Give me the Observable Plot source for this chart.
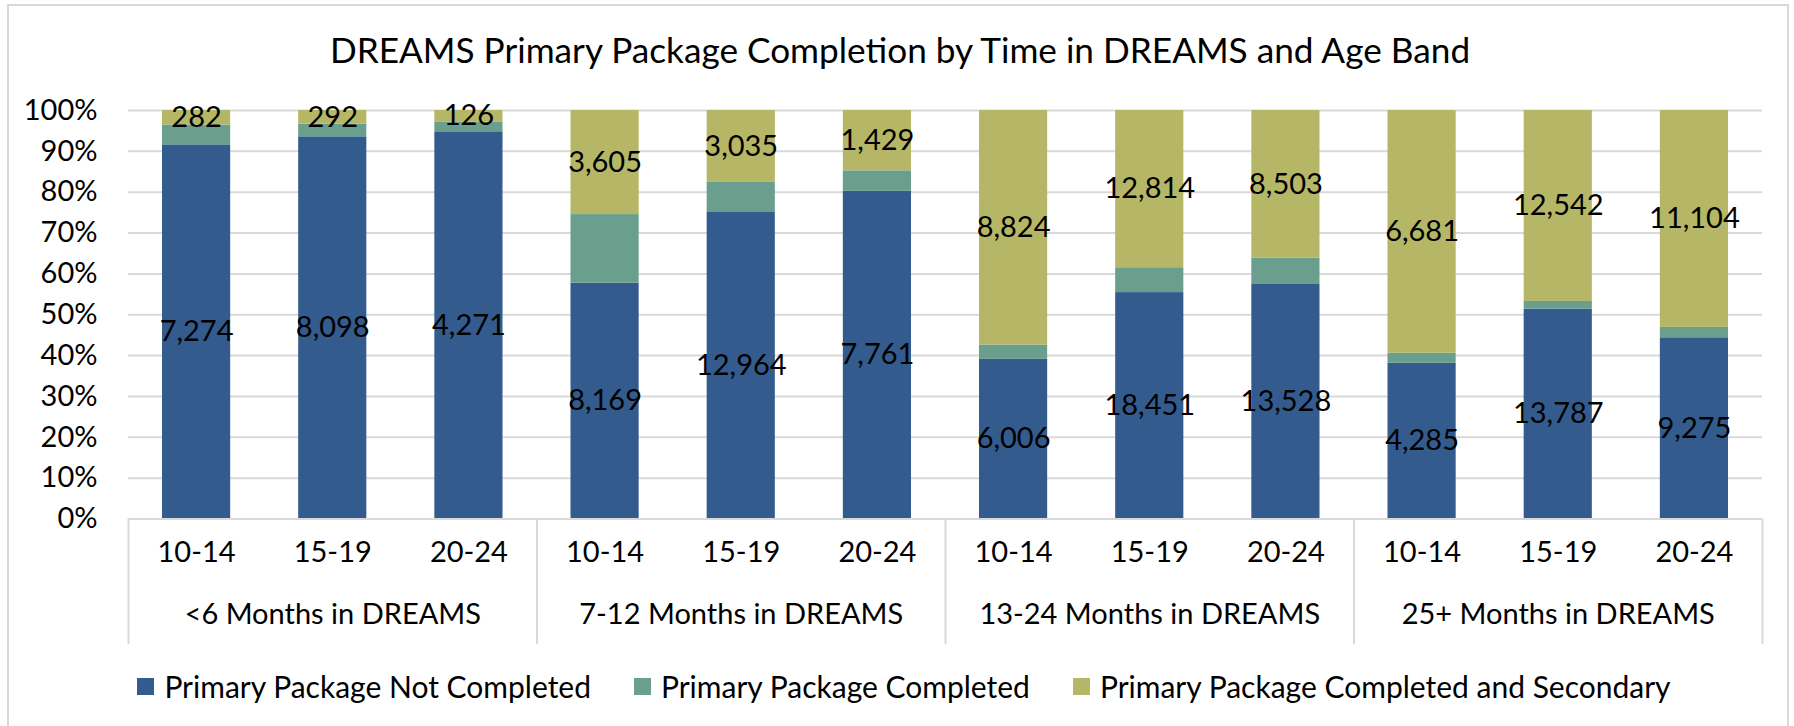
<!DOCTYPE html>
<html>
<head>
<meta charset="utf-8">
<script src="https://cdn.jsdelivr.net/npm/d3@7"></script>
<script src="https://cdn.jsdelivr.net/npm/@observablehq/plot@0.6"></script>
<style>
  html, body { margin: 0; padding: 0; background: #fff; }
  #wrap { position: relative; width: 1794px; height: 726px; overflow: hidden; background: #fff; font-family: Lato, "Open Sans", sans-serif; color: #000; }
  #border { position: absolute; left: 7px; top: 4px; width: 1782px; height: 740px; border: 2px solid #d9d9d9; box-sizing: border-box; }
  #title { position: absolute; left: 0; top: 24px; width: 1800px; height: 50px; line-height: 50px; text-align: center; font-size: 35.2px; }
  #chart { position: absolute; left: 0; top: 80px; }
  #legend { position: absolute; left: 0; top: 650px; width: 1794px; height: 72px; padding-left: 14px; box-sizing: border-box; display: flex; align-items: center; justify-content: center; gap: 43px; font-size: 30px; }
  .item { display: flex; align-items: center; gap: 10px; white-space: nowrap; }
  .sw { width: 17px; height: 17px; display: inline-block; }
</style>
</head>
<body>
<div id="wrap">
  <div id="border"></div>
  <div id="title"></div>
  <div id="chart"></div>
  <div id="legend"></div>
</div>
<script>
// ---- data ----
const titleText = "DREAMS Primary Package Completion by Time in DREAMS and Age Band";
const groups = ["<6 Months in DREAMS", "7-12 Months in DREAMS", "13-24 Months in DREAMS", "25+ Months in DREAMS"];
const ages = ["10-14", "15-19", "20-24"];
const series = ["Primary Package Not Completed", "Primary Package Completed", "Primary Package Completed and Secondary"];
const colors = ["#335b8d", "#6a9f8d", "#b5b766"];
const notCompleted       = [7274, 8098, 4271, 8169, 12964, 7761, 6006, 18451, 13528, 4285, 13787, 9275];
const completed          = [386, 266, 109, 2376, 1241, 485, 540, 2025, 1469, 279, 501, 531];
const completedSecondary = [282, 292, 126, 3605, 3035, 1429, 8824, 12814, 8503, 6681, 12542, 11104];
const yTicks = [0, 0.1, 0.2, 0.3, 0.4, 0.5, 0.6, 0.7, 0.8, 0.9, 1];

// ---- table ----
const seriesValues = [notCompleted, completed, completedSecondary];
const rows = [];
const ageRows = [];
groups.forEach((g, gi) => ages.forEach((a, ai) => {
  const i = gi * ages.length + ai;
  ageRows.push({i, age: a, group: g});
  series.forEach((s, si) => rows.push({i, group: g, age: a, series: s, count: seriesValues[si][i]}));
}));
const n = groups.length * ages.length;
const boundaries = d3.range(0, n + 1, ages.length);
const fmt = d3.format(",");
const labelFont = 29;
const grid = "#d9d9d9";

document.getElementById("title").textContent = titleText;

const plot = Plot.plot({
  width: 1794,
  height: 570,
  marginTop: 30,
  marginBottom: 131.5,
  marginLeft: 128,
  marginRight: 32,
  style: {fontFamily: 'Lato, "Open Sans", sans-serif', color: "#000", background: "transparent", overflow: "visible"},
  x: {domain: [0, n], axis: null},
  y: {domain: [0, 1], axis: null},
  color: {domain: series, range: colors},
  marks: [
    Plot.gridY(yTicks, {stroke: grid, strokeWidth: 2, strokeOpacity: 1}),
    Plot.axisY(yTicks, {tickSize: 0, tickPadding: 31, tickFormat: d3.format(".0%"), fontSize: labelFont, fill: "#000", label: null}),
    Plot.rectY(rows, Plot.stackY({x1: "i", x2: d => d.i + 1, y: "count", fill: "series", offset: "normalize", insetLeft: 34, insetRight: 34})),
    Plot.text(rows, Plot.stackY({x: d => d.i + 0.5, y: "count", z: "series", offset: "normalize",
      text: d => d.series === series[1] ? null : fmt(d.count), fontSize: labelFont, fill: "#000"})),
    Plot.ruleY([0], {stroke: grid, strokeWidth: 2}),
    Plot.ruleX(boundaries, {y1: 0, y2: 0, insetBottom: -125.5, stroke: grid, strokeWidth: 2}),
    Plot.text(ageRows, {x: d => d.i + 0.5, text: "age", frameAnchor: "bottom", dy: 43, fontSize: labelFont, fill: "#000"}),
    Plot.text(groups, {x: (d, gi) => gi * ages.length + ages.length / 2, text: d => d, frameAnchor: "bottom", dy: 104.5, fontSize: labelFont, fill: "#000"})
  ]
});
document.getElementById("chart").appendChild(plot);

const legend = document.getElementById("legend");
series.forEach((s, si) => {
  const item = document.createElement("div");
  item.className = "item";
  const sw = document.createElement("span");
  sw.className = "sw";
  sw.style.background = colors[si];
  const t = document.createElement("span");
  t.textContent = s;
  item.appendChild(sw);
  item.appendChild(t);
  legend.appendChild(item);
});
</script>
</body>
</html>
